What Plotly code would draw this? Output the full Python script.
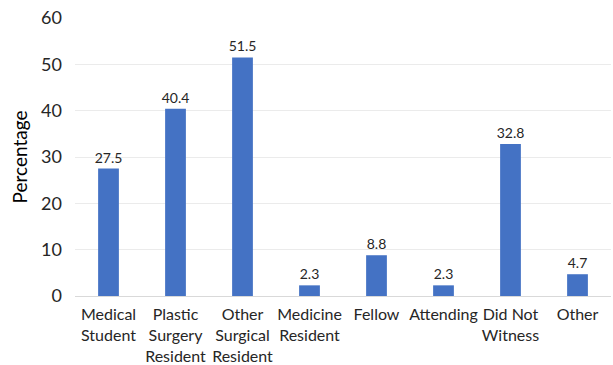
import plotly.graph_objects as go

categories = [
    "Medical<br>Student",
    "Plastic<br>Surgery<br>Resident",
    "Other<br>Surgical<br>Resident",
    "Medicine<br>Resident",
    "Fellow",
    "Attending",
    "Did Not<br>Witness",
    "Other",
]
percentages = [27.5, 40.4, 51.5, 2.3, 8.8, 2.3, 32.8, 4.7]
y_ticks = [0, 10, 20, 30, 40, 50, 60]

FONT = "Lato, 'Liberation Sans', sans-serif"

fig = go.Figure(
    go.Bar(
        x=categories,
        y=percentages,
        marker=dict(color="#4472C4", line=dict(width=0)),
        text=[f"{v:.1f}" for v in percentages],
        textposition="outside",
        constraintext="none",
        cliponaxis=False,
        textfont=dict(family=FONT, size=14, color="#262626"),
    )
)

fig.update_layout(
    width=613,
    height=365,
    margin=dict(l=75, r=2, t=18, b=69),
    paper_bgcolor="white",
    plot_bgcolor="white",
    bargap=0.69,
    showlegend=False,
    font=dict(family=FONT, color="#262626"),
    xaxis=dict(
        automargin=False,
        showgrid=False,
        showline=True,
        linecolor="#D9D9D9",
        linewidth=1,
        ticks="",
        tickfont=dict(size=16, color="#262626"),
        ticklabelstandoff=4,
    ),
    yaxis=dict(
        automargin=False,
        range=[0, 60],
        tickvals=y_ticks,
        showgrid=True,
        gridcolor="#EBEBEB",
        gridwidth=1,
        zeroline=False,
        showline=False,
        ticks="",
        tickfont=dict(size=18, color="#262626"),
        ticklabelstandoff=12,
        title=dict(text="Percentage", font=dict(size=19, color="#000000"), standoff=8),
    ),
)

fig.write_html("out.html")
